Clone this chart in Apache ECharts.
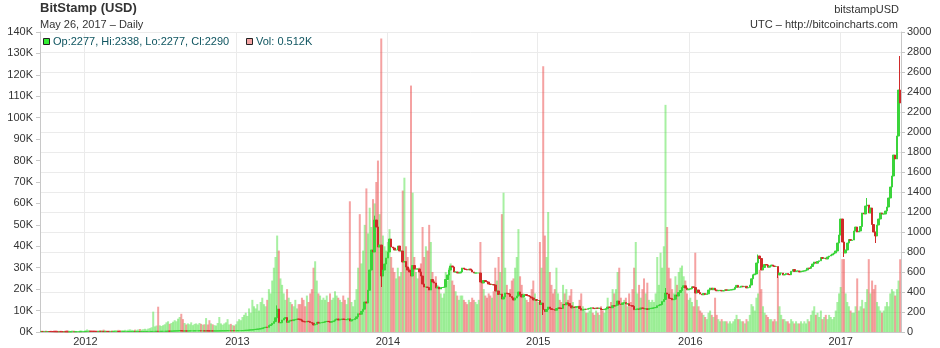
<!DOCTYPE html>
<html><head><meta charset="utf-8">
<script src="https://cdn.jsdelivr.net/npm/echarts@6/dist/echarts.min.js"></script>
<style>html,body{margin:0;padding:0;background:#fff}#c{width:940px;height:348px}</style>
</head><body><div id="c"></div>
<script>
// ---- data: one point every 4 days starting 2011-09-15 (BitStamp BTC/USD) ----
const startDate = '2011-09-15';
const stepDays = 4;

// closing price (USD)
const closes = [
  5.6,5.3,5.5,5.0,                         // 2011 Sep
  5.0,4.9,4.2,4.1,3.7,3.2,3.0,3.3,         // Oct
  3.2,3.0,3.0,2.5,2.2,2.3,2.5,3.0,         // Nov
  2.9,3.0,3.1,3.2,3.9,3.9,4.0,             // Dec
  5.0,6.8,6.9,6.4,6.3,6.2,5.8,5.7,         // 2012 Jan
  6.0,5.6,5.8,4.5,5.2,5.0,4.8,             // Feb
  5.0,4.9,4.9,5.2,5.3,4.8,4.7,4.9,         // Mar
  4.9,4.9,4.9,4.9,5.1,5.1,5.1,4.9,         // Apr
  5.0,5.1,5.0,5.1,5.1,5.1,5.1,             // May
  5.2,5.4,5.6,5.9,6.3,6.5,6.4,6.6,         // Jun
  6.6,6.8,7.1,7.6,8.6,8.4,8.8,9.3,         // Jul
  10.8,11.0,11.6,13.2,10.9,10.2,10.6,      // Aug
  10.1,11.0,11.1,11.6,11.8,12.3,12.4,12.4, // Sep
  12.7,11.8,11.8,11.7,11.8,11.6,10.5,11.2, // Oct
  10.9,10.9,10.9,11.1,11.7,12.3,12.3,      // Nov
  12.6,13.2,13.5,13.6,13.2,13.5,13.3,13.4, // Dec
  13.4,13.5,14.1,14.3,15.7,17.1,17.5,20.4, // 2013 Jan
  20.6,22.3,24.8,27.0,29.6,29.7,33.4,      // Feb
  40.3,44.2,47.4,47.0,64.3,71.5,86.2,      // Mar
  104,142,230,93,93,120,137,144,           // Apr
  97,110,117,114,122,126,129,128,          // May
  121,108,103,100,107,104,95,              // Jun
  88,70,76,97,89,92,95,98,                 // Jul
  104,106,104,98,104,110,122,130,          // Aug
  120,124,129,127,124,124,132,             // Sep
  110,122,124,134,151,182,178,206,         // Oct
  228,300,290,418,620,820,800,             // Nov
  1120,1050,850,870,560,620,680,740,       // Dec
  800,930,850,840,820,820,860,810,         // 2014 Jan
  810,700,705,650,620,600,560,             // Feb
  665,630,630,630,600,560,480,450,         // Mar
  450,445,420,525,500,490,440,             // Apr
  450,430,445,445,450,525,570,620,         // May
  660,650,600,600,590,590,600,             // Jun
  640,630,625,620,630,620,600,590,         // Jul
  590,590,590,500,490,515,505,500,         // Aug
  480,475,475,470,410,410,375,             // Sep
  380,330,350,390,385,380,355,340,         // Oct
  320,340,360,400,375,350,370,375,         // Nov
  365,360,350,340,320,325,315,             // Dec
  315,275,290,225,205,225,250,233,         // 2015 Jan
  226,224,218,235,241,237,236,             // Feb
  275,273,292,284,261,241,248,246,         // Mar
  254,256,235,219,223,228,227,             // Apr
  233,237,242,237,234,240,237,237,         // May
  225,224,228,233,249,245,243,263,         // Jun
  260,268,310,278,276,289,294,             // Jul
  281,282,265,264,257,224,228,230,         // Aug
  228,240,238,231,232,226,234,236,         // Sep
  240,243,245,262,269,275,304,             // Oct
  325,390,380,337,335,322,328,370,         // Nov
  360,395,415,445,462,440,422,430,         // Dec
  432,452,445,390,420,395,380,             // 2016 Jan
  372,385,375,382,420,440,423,437,         // Feb
  420,412,416,416,410,414,422,             // Mar
  417,420,420,423,428,447,466,448,         // Apr
  450,458,452,457,441,444,470,532,         // May
  572,580,690,760,735,620,645,             // Jun
  675,670,648,660,670,660,655,655,         // Jul
  570,590,590,570,575,585,575,573,         // Aug
  607,625,605,610,610,600,605,             // Sep
  610,612,620,638,637,655,680,700,         // Oct
  688,705,712,745,735,740,730,             // Nov
  750,760,770,780,790,810,890,970,         // Dec
  1130,900,790,820,890,925,915,920,        // 2017 Jan
  1010,1050,1000,1010,1055,1190,1180,      // Feb
  1260,1270,1190,1240,1075,1000,960,1070,  // Mar
  1130,1190,1180,1180,1210,1250,1340,      // Apr
  1450,1560,1770,1730,1960,2420,2290       // May
];

// volume (thousand BTC)
const volumesK = [
  0.3,0.5,0.4,0.6,
  0.5,0.4,0.6,0.5,0.7,0.8,0.6,0.5,
  0.6,0.5,0.4,0.7,0.9,0.6,0.5,0.7,
  0.6,0.5,0.4,0.5,0.8,0.6,0.5,
  0.9,1.2,0.8,0.7,0.6,0.7,0.6,0.5,
  0.6,0.8,0.7,1.1,0.8,0.6,0.7,
  0.6,0.7,0.8,0.9,0.8,1.0,0.9,0.8,
  0.9,1.0,0.8,1.1,1.2,1.0,0.9,1.1,
  1.0,1.2,1.4,1.1,1.3,1.5,1.2,
  1.6,1.8,2.2,9.5,2.6,3.0,11.8,3.1,
  2.8,3.2,3.6,4.5,5.0,3.8,4.2,4.8,
  5.5,5.0,6.2,7.0,8.5,6.0,4.2,
  3.5,4.0,3.6,4.5,3.2,3.8,4.0,3.5,
  4.2,3.8,3.4,3.6,6.5,3.5,5.5,4.0,
  3.6,3.2,3.0,4.2,7.0,4.0,3.4,
  4.0,4.5,6.0,3.5,3.8,3.2,3.0,3.6,
  5,6,5.5,7,8,9,7.5,11,
  9,15,12,11,13,10,14,
  16,13,12,15,20,18,24,
  30,35,45,38,25,22,18,15,
  20,16,14,13,12,15,11,13,
  13,16,15,12,17,14,18,
  20,30,33,24,18,17,15,16,
  15,17,14,18,15,16,19,17,
  16,15,14,17,15,13,16,
  61,14,12,15,20,30,55,32,
  38,50,67,46,58,49,62,
  60,70,80,55,137,45,40,38,
  42,48,35,30,28,25,30,26,
  28,66,72,40,35,30,115,
  65,35,28,25,30,32,49,35,
  40,38,50,42,28,24,26,
  22,20,18,16,18,28,24,30,
  32,24,22,19,17,15,17,
  17,15,14,13,15,14,16,15,
  14,13,15,42,24,20,17,16,
  18,17,16,19,30,24,35,
  28,55,65,30,22,18,20,24,
  25,30,35,48,26,22,18,16,
  15,14,16,20,24,18,15,
  14,42,30,124,45,35,56,28,
  22,18,20,30,18,15,14,
  22,18,20,15,17,20,14,12,
  12,11,15,18,12,10,9,
  9,10,11,9,8,10,9,8,
  12,10,9,11,16,12,14,20,
  18,20,28,30,16,14,15,
  16,12,18,14,20,30,42,18,
  22,16,20,25,18,23,15,14,
  15,14,18,35,22,37,30,
  40,106,49,30,25,20,18,26,
  22,28,30,31,26,24,18,15,
  16,14,12,37,15,12,10,
  9,8,7,6,9,10,8,7,
  16,8,6,5,6,5,5,
  5,4,5,4,5,6,8,6,
  6,5,5,4,6,5,8,13,
  12,10,16,18,29,20,12,
  9,8,7,6,6,5,6,5,
  26,12,8,6,6,5,5,4,
  6,5,4,5,4,4,5,
  4,5,4,6,5,8,10,12,
  8,9,7,10,6,7,8,
  6,8,7,6,7,10,14,18,
  21,34,34,18,14,12,10,9,
  9,12,25,10,12,15,11,
  14,20,34,18,24,20,22,14,
  12,10,9,10,12,14,12,
  18,20,19,17,20,24,34
];

// intraday extremes that stick out of the 4-day bodies
const wickDates = ['2013-04-09','2013-12-01','2013-12-17','2015-01-13','2015-11-05','2016-06-16','2016-08-03','2017-01-10','2017-03-07','2017-03-27','2017-05-26'];
const wickHighs = [266, 1163, null, null, 440, 775, null, null, 1340, null, 2760];
const wickLows  = [null, null, 450, 170, null, null, 540, 750, null, 890, null];

const yearLabels = ['2012','2013','2014','2015','2016','2017'];

const lastDateText = 'May 26, 2017';
const lastOp = 2277, lastHi = 2338, lastLo = 2277, lastCl = 2290, lastVolK = 0.512;

// ---- build ----
const FONT = "'Liberation Sans', Arial, Helvetica, sans-serif";
const t0 = Date.parse(startDate + 'T00:00:00Z');
const dates = closes.map((_, i) => new Date(t0 + i * stepDays * 86400000).toISOString().slice(0, 10));
const isYearStart = (i) => i > 0 && dates[i].slice(0, 4) !== dates[i - 1].slice(0, 4);

const UP = '#3bd43b', DOWN = '#d02a2a';
const VUP = 'rgba(80,225,70,0.5)', VDOWN = 'rgba(235,70,70,0.5)';

const candles = closes.map((c, i) => {
  const o = i === 0 ? c : closes[i - 1];
  let lo = Math.min(o, c), hi = Math.max(o, c);
  const w = wickDates.indexOf(dates[i]);
  if (w >= 0) {
    if (wickHighs[w] != null) hi = Math.max(hi, wickHighs[w]);
    if (wickLows[w] != null) lo = Math.min(lo, wickLows[w]);
  }
  return [o, c, lo, hi];
});
const volData = volumesK.map((v, i) => {
  const o = i === 0 ? closes[i] : closes[i - 1];
  return { value: v, itemStyle: { color: closes[i] >= o ? VUP : VDOWN } };
});

const axisGrey = '#c8c8c8', gridGrey = '#ebebeb', labelCol = '#333';
const chart = echarts.init(document.getElementById('c'), null, { renderer: 'canvas' });
chart.setOption({
  animation: false,
  backgroundColor: '#fff',
  grid: { left: 40, right: 39, top: 32, bottom: 16 },
  xAxis: {
    type: 'category', data: dates, boundaryGap: true,
    axisLine: { lineStyle: { color: axisGrey } },
    axisTick: { show: false },
    axisLabel: {
      interval: (i) => isYearStart(i),
      formatter: (v) => { const y = v.slice(0, 4); return yearLabels.indexOf(y) >= 0 ? y : ''; },
      color: labelCol, fontSize: 11, fontFamily: FONT, margin: 4
    },
    splitLine: { show: true, interval: (i) => isYearStart(i), lineStyle: { color: gridGrey } }
  },
  yAxis: [
    {
      type: 'value', position: 'left', min: 0, max: 140, interval: 10,
      axisLine: { show: true, lineStyle: { color: axisGrey } },
      axisTick: { show: true, length: 4, lineStyle: { color: axisGrey } },
      axisLabel: { formatter: (v) => v + 'K', color: labelCol, fontSize: 11, fontFamily: FONT, margin: 7 },
      splitLine: { show: false }
    },
    {
      type: 'value', position: 'right', min: 0, max: 3000, interval: 200,
      axisLine: { show: true, lineStyle: { color: axisGrey } },
      axisTick: { show: true, length: 4, lineStyle: { color: axisGrey } },
      axisLabel: { formatter: (v) => String(v), color: labelCol, fontSize: 11, fontFamily: FONT, margin: 6 },
      splitLine: { show: true, lineStyle: { color: gridGrey } }
    }
  ],
  series: [
    { type: 'bar', yAxisIndex: 0, data: volData, barWidth: 2, z: 2 },
    {
      type: 'candlestick', yAxisIndex: 1, data: candles, barWidth: 2, z: 3,
      itemStyle: { color: UP, color0: DOWN, borderColor: UP, borderColor0: DOWN, borderWidth: 1 }
    }
  ],
  graphic: [
    { type: 'text', x: 40, y: 2, style: { text: 'BitStamp (USD)', font: 'bold 13px ' + FONT, fill: '#333', verticalAlign: 'top' } },
    { type: 'text', x: 40, y: 19, style: { text: lastDateText + ' \u2013 Daily', font: '11px ' + FONT, fill: '#333', verticalAlign: 'top' } },
    { type: 'text', x: 899, y: 4, style: { text: 'bitstampUSD', font: '11px ' + FONT, fill: '#333', align: 'right', verticalAlign: 'top' } },
    { type: 'text', x: 898, y: 19, style: { text: 'UTC \u2013 http://bitcoincharts.com', font: '11px ' + FONT, fill: '#333', align: 'right', verticalAlign: 'top' } },
    { type: 'rect', shape: { x: 43.5, y: 38.5, width: 6, height: 6 }, style: { fill: '#33ee33', stroke: '#222', lineWidth: 1 }, z: 10 },
    { type: 'text', x: 53, y: 42, style: { text: 'Op:' + lastOp + ', Hi:' + lastHi + ', Lo:' + lastLo + ', Cl:' + lastCl, font: '11px ' + FONT, fill: '#0f5560', verticalAlign: 'middle' }, z: 10 },
    { type: 'rect', shape: { x: 246.5, y: 38.5, width: 6, height: 6 }, style: { fill: '#f4a4a4', stroke: '#222', lineWidth: 1 }, z: 10 },
    { type: 'text', x: 256, y: 42, style: { text: 'Vol: ' + lastVolK + 'K', font: '11px ' + FONT, fill: '#0f5560', verticalAlign: 'middle' }, z: 10 }
  ]
});
</script>
</body></html>
